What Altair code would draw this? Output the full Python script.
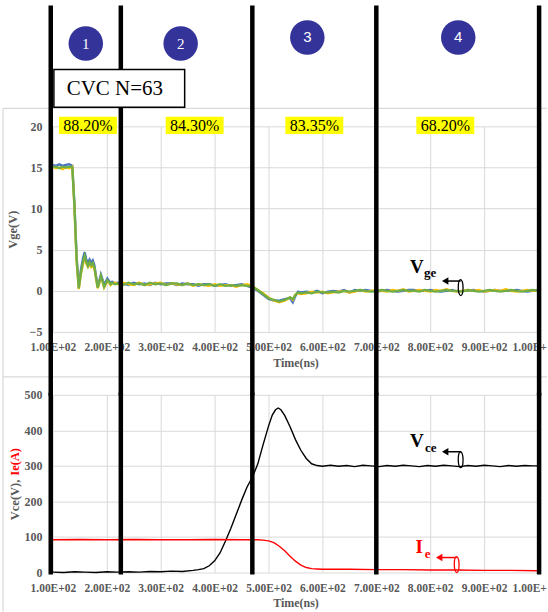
import altair as alt
import pandas as pd

# ---------------- data ----------------
T_VGE = [100, 106, 112, 118, 124, 130, 136, 140, 144, 148, 152, 156,
         159, 162, 165, 168, 171, 174, 177, 180, 183, 186, 189, 192, 195, 198, 201, 204, 207, 210,
         215, 220,
         230, 240, 250, 260, 270, 280, 290, 300, 310, 320, 330, 340, 350, 360, 370, 380,
         390, 400, 410, 420, 430, 440, 450, 460, 470, 480, 490, 500, 510, 520, 530, 540,
         545, 550, 555, 560,
         570, 580, 590, 600, 610, 620, 630, 640, 650, 660, 670, 680, 690, 700, 710, 720,
         730, 740, 750, 760, 770, 780, 790, 800, 810, 820, 830, 840, 850, 860, 870, 880,
         890, 900, 910, 920, 930, 940, 950, 960, 970, 980, 990, 1000]

VGE_BLUE = [15.3, 15.2, 15.4, 15.2, 15.3, 15.4, 15.2,
            10.6, 4.2, 0.5, 2.6, 4.0,
            4.7, 3.8, 3.4, 3.8, 3.4, 3.7, 3.1, 1.8, 0.6, 1.2, 2.0, 1.4, 0.7, 1.1, 1.5, 1.2, 0.9, 1.1,
            0.9, 1.0,
            0.9, 0.7, 1.0, 0.8, 0.9, 0.7, 1.0, 0.8, 0.9, 0.9, 0.7, 0.9, 0.8, 0.8, 0.6, 0.8,
            0.8, 0.6, 0.7, 0.8, 0.6, 0.7, 0.8, 0.6, 0.4, 0.0, -0.5, -1.0, -1.2, -1.2, -1.0, -0.9,
            -1.4, -0.6, -0.1, -0.2,
            -0.1, -0.2, 0.0, -0.3, -0.1, 0.0, -0.1, 0.1, -0.2, 0.1, 0.0, 0.1, 0.0, -0.1, 0.0, 0.1,
            0.0, -0.1, 0.0, 0.1, 0.1, 0.0, 0.0, 0.1, 0.0, -0.1, 0.0, 0.1, -0.1, 0.0, 0.0, 0.1,
            0.0, -0.1, 0.0, 0.1, 0.0, 0.0, 0.0, 0.1, 0.0, -0.1, 0.0, 0.1]

VGE_ORANGE = [15.1, 14.9, 15.0, 14.8, 15.0, 14.9, 15.1,
              10.0, 3.5, 0.2, 2.0, 3.3,
              4.1, 3.3, 2.9, 3.3, 2.9, 3.2, 2.7, 1.5, 0.3, 0.9, 1.7, 1.1, 0.4, 0.8, 1.2, 1.0, 0.7, 0.9,
              1.0, 0.8,
              1.0, 0.8, 0.7, 1.0, 0.7, 0.8, 0.9, 1.0, 0.7, 0.9, 0.8, 0.7, 0.9, 0.6, 0.8, 0.7,
              0.6, 0.8, 0.6, 0.7, 0.7, 0.5, 0.7, 0.8, 0.6, 0.1, -0.3, -0.8, -1.2, -1.4, -1.2, -0.8,
              -1.1, -0.4, -0.3, -0.4,
              -0.3, -0.1, -0.2, -0.1, -0.3, -0.2, -0.1, 0.0, -0.2, -0.1, 0.1, -0.1, 0.0, 0.1, 0.0, -0.1,
              0.1, 0.0, 0.2, -0.1, 0.0, 0.1, 0.0, -0.1, 0.1, 0.0, 0.2, 0.0, -0.1, 0.0, 0.1, 0.0,
              0.1, -0.1, 0.0, 0.1, 0.0, 0.2, 0.0, -0.1, 0.0, 0.1, 0.0, 0.0]

VGE_GREEN = [15.0, 15.1, 14.9, 15.1, 15.0, 15.1, 15.0,
             10.2, 3.8, 0.3, 2.2, 3.6,
             4.3, 3.5, 3.0, 3.5, 3.1, 3.4, 2.8, 1.6, 0.4, 1.0, 1.8, 1.2, 0.5, 0.9, 1.3, 1.1, 0.8, 1.0,
             0.8, 0.9,
             0.7, 1.0, 0.8, 0.9, 0.7, 1.0, 0.8, 0.9, 0.7, 0.9, 0.9, 0.7, 0.9, 0.7, 0.8, 0.7,
             0.8, 0.6, 0.8, 0.6, 0.7, 0.6, 0.7, 0.6, 0.5, 0.1, -0.4, -0.9, -1.1, -1.3, -1.1, -0.8,
             -1.0, -0.5, -0.2, -0.3,
             -0.2, -0.3, -0.1, -0.2, -0.2, -0.1, -0.2, 0.0, -0.1, 0.0, 0.1, 0.0, -0.1, 0.0, 0.1, 0.0,
             -0.1, 0.0, 0.1, 0.0, 0.0, -0.1, 0.1, 0.0, -0.1, 0.0, 0.1, 0.0, 0.0, -0.1, 0.1, 0.0,
             -0.1, 0.0, 0.1, 0.0, -0.1, 0.0, 0.1, 0.0, -0.1, 0.0, 0.1, 0.0]

T_VCE = [100, 120, 140, 160, 180, 200, 220, 240, 260, 280, 300, 320, 340, 360,
         370, 380, 390, 400, 410, 420, 430, 440, 450, 460, 470, 480, 490, 500,
         507, 513, 518, 523,
         530, 540, 550, 560, 570, 580, 590, 600,
         615, 630, 645, 660, 675, 690, 705, 720, 735, 750, 765, 780, 795, 810, 825, 840,
         855, 870, 885, 900, 915, 930, 945, 960, 975, 990, 1000]
VCE = [1, 0, 2, 1, 0, 2, 1, 2, 1, 3, 2, 4, 3, 6,
       8, 11, 19, 33, 55, 88, 124, 163, 203, 240, 268, 305, 360, 412,
       443, 458, 463, 458,
       442, 410, 374, 344, 321, 306, 301, 299,
       302, 299, 301, 298, 302, 300, 298, 301, 299, 302, 300, 298, 301, 299, 302, 300,
       298, 301, 299, 302, 300, 298, 301, 299, 301, 300, 300]

T_IE = [100, 150, 200, 250, 300, 350, 400, 450,
        480, 490, 500, 510, 520, 530, 540, 550, 560, 570, 580, 590, 600,
        650, 700, 750, 800, 850, 900, 950, 1000]
IE = [92, 93, 92, 93, 92, 92, 93, 92,
      92, 91, 89, 84, 74, 61, 46, 32, 21, 14, 11, 10, 9,
      9, 8, 8, 7, 7, 6, 6, 5]

PHASE_BOUNDS = [96, 226, 470, 700, 1002]
PHASE_LABELS = ["1", "2", "3", "4"]
PHASE_LABEL_T = [161, 337, 572, 852]
PCT_LABELS = ["88.20%", "84.30%", "83.35%", "68.20%"]
PCT_T = [165, 363, 585, 828]
X_TICKS = [100, 200, 300, 400, 500, 600, 700, 800, 900, 1000]
VGE_TICKS = [-5, 0, 5, 10, 15, 20]
VCE_TICKS = [0, 100, 200, 300, 400, 500]

# ---------------- styling ----------------
W, H1, H2, GAP = 486, 206, 178, 63
FONT = "Liberation Serif"
GREY = "#595959"
GRIDC = "#d9d9d9"
NAVY = "#333399"

xs = alt.Scale(domain=[100, 1000], nice=False, zero=False)
ys_top = alt.Scale(domain=[-5, 20], nice=False, zero=False)
ys_bot = alt.Scale(domain=[0, 500], nice=False, zero=False)

LABEL_EXPR = ("datum.value < 1000 ? format(datum.value / 100, '.2f') + 'E+02' : '1.00E+'")


def x_axis():
    return alt.Axis(
        values=X_TICKS, labelExpr=LABEL_EXPR, labelFont=FONT, labelFontWeight="bold",
        labelFontSize=11.5, labelColor=GREY, labelPadding=10, labelFlush=False,
        labelOverlap=False,
        labelAlign={"condition": {"test": "datum.value >= 1000", "value": "left"}, "value": "center"},
        labelOffset={"condition": {"test": "datum.value >= 1000", "value": -26}, "value": 0},
        ticks=False, domain=False, gridColor=GRIDC, gridWidth=1,
        title="Time(ns)", titleFont=FONT, titleFontWeight="bold", titleFontSize=12,
        titleColor=GREY, titlePadding=4)


def y_axis(values, title):
    return alt.Axis(
        values=values, labelFont=FONT, labelFontWeight="bold", labelFontSize=12,
        labelColor=GREY, labelPadding=11, ticks=False, domain=False,
        gridColor=GRIDC, gridWidth=1, title=title, titleFont=FONT, titleFontWeight="bold",
        titleFontSize=12.5, titleColor=GREY, titleAngle=270, titleX=-40, titleY=H1 / 2,
        titleAlign="center", titleBaseline="middle")


one = pd.DataFrame({"_": [0]})
df_vge = pd.DataFrame({"t": T_VGE, "blue": VGE_BLUE, "orange": VGE_ORANGE, "green": VGE_GREEN})
df_vce = pd.DataFrame({"t": T_VCE, "v": VCE})
df_ie = pd.DataFrame({"t": T_IE, "v": IE})
df_bounds = pd.DataFrame({"t": PHASE_BOUNDS})
df_c12 = pd.DataFrame({"t": PHASE_LABEL_T[:2], "label": PHASE_LABELS[:2]})
df_c34 = pd.DataFrame({"t": PHASE_LABEL_T[2:], "label": PHASE_LABELS[2:]})
df_pct = pd.DataFrame({"t": PCT_T, "label": PCT_LABELS})

XT = alt.X("t:Q", scale=xs, axis=x_axis())


def val_text(txt, x, y, size, color="black", weight="normal", align="center",
             baseline="alphabetic", angle=0, font=FONT):
    kw = dict(text=txt, font=font, fontSize=size, color=color, fontWeight=weight,
              align=align, baseline=baseline)
    if angle:
        kw["angle"] = angle
    return alt.Chart(one).mark_text(**kw).encode(x=alt.value(x), y=alt.value(y))


def hline(x1, x2, y, color, width):
    return alt.Chart(one).mark_rule(color=color, strokeWidth=width).encode(
        x=alt.value(x1), x2=alt.value(x2), y=alt.value(y))


def vline(x, y1, y2, color, width):
    return alt.Chart(one).mark_rule(color=color, strokeWidth=width).encode(
        x=alt.value(x), y=alt.value(y1), y2=alt.value(y2))


def point_at(x, y, shape, size, color, filled):
    if filled:
        m = alt.Chart(one).mark_point(shape=shape, size=size, filled=True, fill=color,
                                      opacity=1, strokeWidth=0)
    else:
        m = alt.Chart(one).mark_point(shape=shape, size=size, filled=False, stroke=color,
                                      strokeWidth=1.3, opacity=1)
    return m.encode(x=alt.value(x), y=alt.value(y))


ELLIPSE = "M0,-1A0.3,1,0,1,1,0,1A0.3,1,0,1,1,0,-1Z"


def annotation(main, sub, color, vx, vy, sx, sy, ay, ax1, ax2, hx, ex, ey):
    return [
        val_text(main, vx, vy, 19, color=color, weight="bold"),
        val_text(sub, sx, sy, 13, color=color, weight="bold"),
        hline(ax1, ax2, ay, color, 1.5),
        point_at(hx, ay, "triangle-left", 55, color, True),
        point_at(ex, ey, ELLIPSE, 256, color, False),
    ]


# ---------------- top panel (origin = plot top-left) ----------------
bg = alt.Chart(one).mark_rect(fill="white", opacity=0).encode(
    x=alt.value(-53), x2=alt.value(495), y=alt.value(-126), y2=alt.value(486))

frames = [
    hline(-50, 495, -18, GRIDC, 1.2),
    hline(-50, 495, 251, GRIDC, 1.2),
    vline(-50, -18, 486, GRIDC, 1.2),
]

vge_layers = []
for col, colr in [("blue", "#4472C4"), ("orange", "#FFC000"), ("green", "#70AD47")]:
    vge_layers.append(
        alt.Chart(df_vge).mark_line(color=colr, strokeWidth=2.3).encode(
            x=XT, y=alt.Y(f"{col}:Q", scale=ys_top, axis=y_axis(VGE_TICKS, "Vge(V)"))))

rules_top = alt.Chart(df_bounds).mark_rule(color="black", strokeWidth=4.5).encode(
    x=XT, y=alt.value(-121), y2=alt.value(270))

cvc_box = alt.Chart(one).mark_rect(fill="white", stroke="black", strokeWidth=1.5).encode(
    x=alt.value(1), x2=alt.value(132), y=alt.value(-57), y2=alt.value(-19))
cvc_text = val_text("CVC N=63", 62, -37, 21, baseline="middle")

circ12 = alt.Chart(df_c12).mark_circle(color=NAVY, size=1195, opacity=1).encode(
    x=XT, y=alt.value(-83))
circ12_t = alt.Chart(df_c12).mark_text(font=FONT, fontSize=15, color="white",
                                       baseline="middle").encode(
    x=XT, y=alt.value(-82), text="label:N")
circ34 = alt.Chart(df_c34).mark_circle(color=NAVY, size=1195, opacity=1).encode(
    x=XT, y=alt.value(-89))
circ34_t = alt.Chart(df_c34).mark_text(font="Liberation Sans", fontSize=15, color="white",
                                       baseline="middle").encode(
    x=XT, y=alt.value(-89), text="label:N")

pct_bg = alt.Chart(df_pct).mark_point(shape="M-1,-0.3H1V0.3H-1Z", size=3364, filled=True,
                                      fill="#FFFF00", opacity=1, strokeWidth=0).encode(
    x=XT, y=alt.value(-1))
pct_t = alt.Chart(df_pct).mark_text(font=FONT, fontSize=16, color="black",
                                    baseline="middle").encode(
    x=XT, y=alt.value(0), text="label:N")

vge_ann = annotation("V", "ge", "black", 364.5, 147, 378, 151, 155, 395, 408.5, 393, 408.5, 161.5)

top = alt.layer(
    bg, *frames, *vge_layers, rules_top, cvc_box, cvc_text,
    circ12, circ12_t, circ34, circ34_t, pct_bg, pct_t, *vge_ann
).properties(width=W, height=H1)

# ---------------- bottom panel ----------------
yb_axis = y_axis(VCE_TICKS, "")

vce_line = alt.Chart(df_vce).mark_line(color="black", strokeWidth=1.4).encode(
    x=XT, y=alt.Y("v:Q", scale=ys_bot, axis=yb_axis))
ie_line = alt.Chart(df_ie).mark_line(color="#FF0000", strokeWidth=1.4).encode(
    x=XT, y=alt.Y("v:Q", scale=ys_bot, axis=yb_axis))
rules_bot = alt.Chart(df_bounds).mark_rule(color="black", strokeWidth=4.5).encode(
    x=XT, y=alt.value(-2), y2=alt.value(180))

ylab1 = val_text("Vce(V),", -38, 85, 12.5, color=GREY, weight="bold", align="right",
                 baseline="middle", angle=270)
ylab2 = val_text("Ie(A)", -38, 81, 12.5, color="#FF0000", weight="bold", align="left",
                 baseline="middle", angle=270)

vce_ann = annotation("V", "ce", "black", 364.5, 52, 378.5, 57, 57, 395, 408.5, 393, 408.5, 65)
ie_ann = annotation("I", "e", "#FF0000", 367, 158, 375.5, 163, 163, 389, 404.5, 387, 404.5, 170)

bottom = alt.layer(
    vce_line, ie_line, rules_bot, ylab1, ylab2, *vce_ann, *ie_ann
).properties(width=W, height=H2)

chart = alt.vconcat(top, bottom, spacing=GAP, bounds="flush").properties(
    padding=0, background="white"
).configure_view(strokeWidth=0)

chart.save("out.html", embed_options={"renderer": "svg", "actions": False})
